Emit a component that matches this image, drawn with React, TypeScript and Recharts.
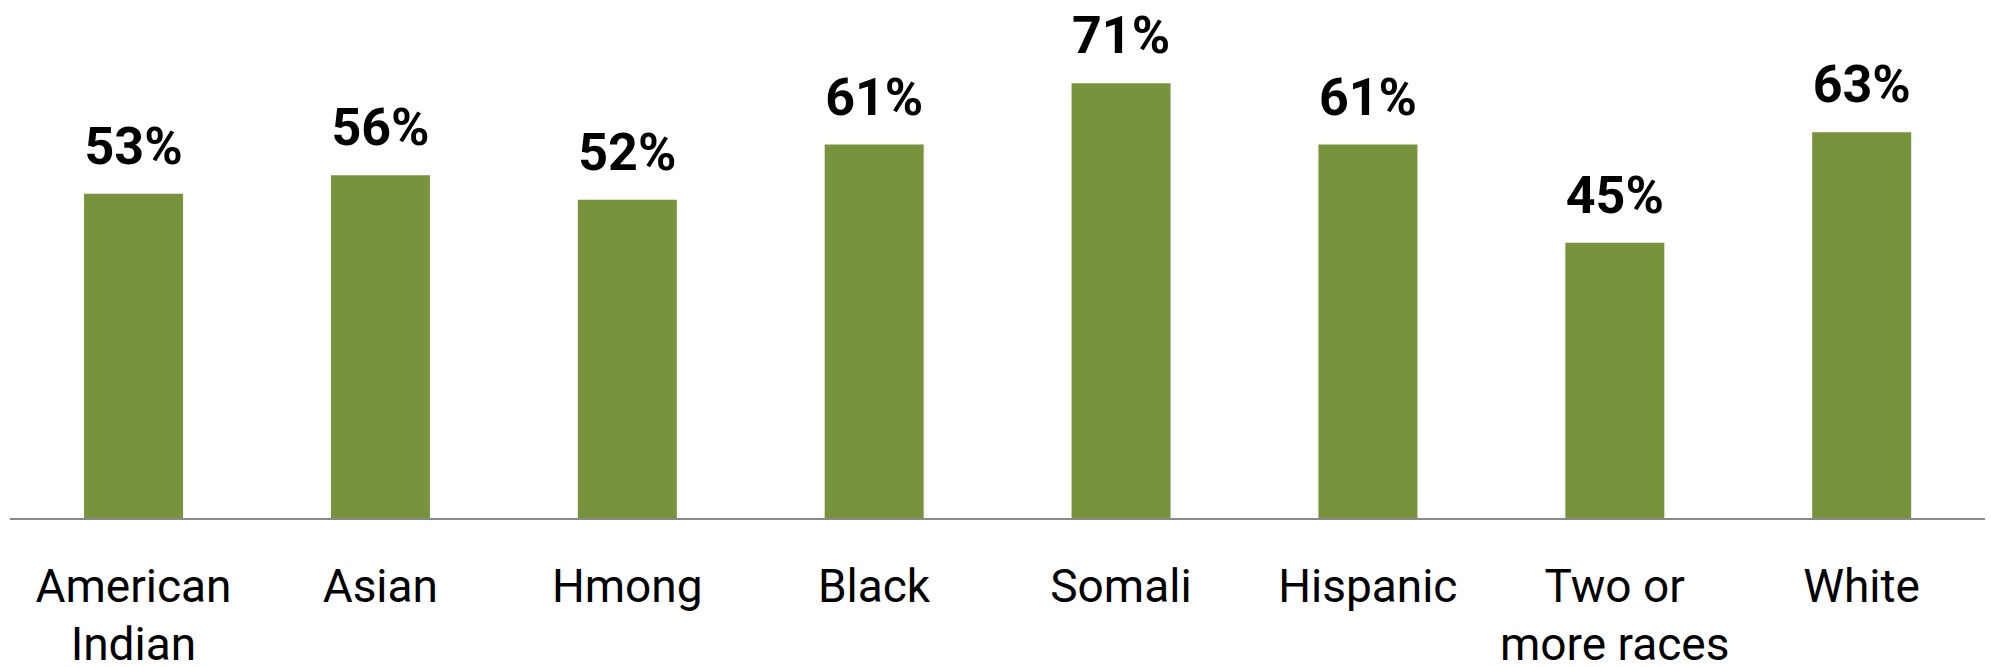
import { BarChart, Bar, XAxis, YAxis, LabelList } from "recharts";

const categories = [
  "American Indian",
  "Asian",
  "Hmong",
  "Black",
  "Somali",
  "Hispanic",
  "Two or more races",
  "White",
];
const values = [53, 56, 52, 61, 71, 61, 45, 63];
const tickLines: Record<string, string[]> = {
  "American Indian": ["American", "Indian"],
  "Two or more races": ["Two or", "more races"],
};

const data = categories.map((name, i) => ({ name, value: values[i] }));

function CategoryTick(props: any) {
  const { x, y, payload } = props;
  const lines = tickLines[payload.value] || [payload.value];
  return (
    <text
      x={x}
      y={y}
      textAnchor="middle"
      fill="#000"
      fontSize={46}
      fontFamily="Roboto"
    >
      {lines.map((line, i) => (
        <tspan key={i} x={x} dy={i === 0 ? 83 : 58}>
          {line}
        </tspan>
      ))}
    </text>
  );
}

export default function App() {
  return (
    <div style={{ width: 1991, height: 667, overflow: "hidden" }}>
      <style>{`body { margin: 0; overflow: hidden; }`}</style>
      <BarChart
        width={1991}
        height={667}
        data={data}
        margin={{ top: 28, right: 6, bottom: 0, left: 10 }}
        barCategoryGap="30%"
      >
        <XAxis
          dataKey="name"
          axisLine={{ stroke: "#898989", strokeWidth: 2 }}
          tickLine={false}
          tickSize={0}
          tickMargin={0}
          interval={0}
          height={148}
          tick={<CategoryTick />}
        />
        <YAxis hide domain={[0, 80]} />
        <Bar dataKey="value" fill="#77933C" isAnimationActive={false}>
          <LabelList
            dataKey="value"
            position="top"
            offset={30}
            formatter={(v: any) => `${v}%`}
            fill="#000"
            fontSize={52}
            fontWeight="bold"
            fontFamily="Roboto"
          />
        </Bar>
      </BarChart>
    </div>
  );
}
